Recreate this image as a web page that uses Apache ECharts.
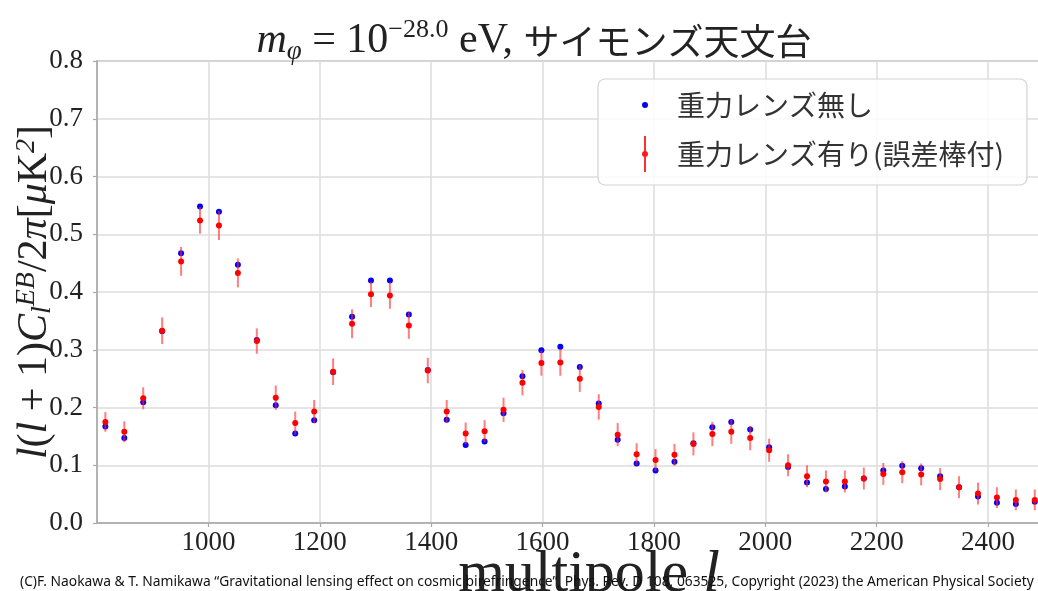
<!DOCTYPE html>
<html>
<head>
<meta charset="utf-8">
<script src="https://cdn.jsdelivr.net/npm/echarts@6/dist/echarts.min.js"></script>
<style>
html,body{margin:0;padding:0;background:#fff;}
#chart{width:1038px;height:591px;}
</style>
</head>
<body>
<div id="chart"></div>
<script>
// multipole bins (l)
const ells = [815, 849, 883, 917, 951, 985, 1019, 1053, 1087, 1121,
  1156, 1190, 1224, 1258, 1292, 1326, 1360, 1394, 1428, 1462,
  1496, 1530, 1564, 1598, 1632, 1667, 1701, 1735, 1769, 1803,
  1837, 1871, 1905, 1939, 1973, 2007, 2041, 2075, 2109, 2143,
  2177, 2212, 2246, 2280, 2314, 2348, 2382, 2416, 2450, 2484];
// without lensing (blue)
const noLens = [0.167, 0.147, 0.209, 0.332, 0.467, 0.548, 0.539, 0.447, 0.317, 0.204,
  0.155, 0.178, 0.261, 0.357, 0.420, 0.420, 0.361, 0.265, 0.179, 0.135,
  0.141, 0.190, 0.254, 0.299, 0.305, 0.270, 0.207, 0.144, 0.103, 0.091,
  0.106, 0.138, 0.166, 0.175, 0.162, 0.131, 0.097, 0.070, 0.059, 0.063,
  0.077, 0.091, 0.099, 0.095, 0.081, 0.062, 0.046, 0.035, 0.033, 0.037];
// with lensing (red)
const withLens = [0.175, 0.158, 0.216, 0.333, 0.453, 0.524, 0.515, 0.433, 0.315, 0.217,
  0.173, 0.193, 0.262, 0.345, 0.396, 0.394, 0.342, 0.264, 0.193, 0.155,
  0.159, 0.196, 0.243, 0.277, 0.278, 0.250, 0.201, 0.153, 0.119, 0.109,
  0.118, 0.137, 0.154, 0.158, 0.147, 0.126, 0.100, 0.081, 0.072, 0.072,
  0.077, 0.085, 0.088, 0.084, 0.076, 0.062, 0.051, 0.044, 0.040, 0.040];
// error bar half-lengths for the lensed spectrum
const errLens = [0.017, 0.018, 0.019, 0.023, 0.025, 0.023, 0.025, 0.025, 0.022, 0.021,
  0.020, 0.020, 0.023, 0.025, 0.022, 0.023, 0.023, 0.022, 0.020, 0.019,
  0.019, 0.021, 0.022, 0.022, 0.023, 0.023, 0.022, 0.020, 0.019, 0.019,
  0.019, 0.020, 0.021, 0.021, 0.021, 0.020, 0.019, 0.019, 0.019, 0.019,
  0.019, 0.019, 0.019, 0.019, 0.019, 0.019, 0.019, 0.018, 0.018, 0.018];
const yTicks = ['0.0','0.1','0.2','0.3','0.4','0.5','0.6','0.7','0.8'];
const xTickValues = [1000, 1200, 1400, 1600, 1800, 2000, 2200, 2400];

const nameNoLens = '重力レンズ無し';
const nameLens = '重力レンズ有り(誤差棒付)';

const SERIF = "'Liberation Serif', 'DejaVu Serif', serif";
const CJK = "'Noto Sans CJK JP', 'Noto Sans', sans-serif";

const chart = echarts.init(document.getElementById('chart'), null, {renderer: 'canvas'});

const option = {
  animation: false,
  backgroundColor: '#ffffff',
  title: {
    text: '{mi|m}{sub|φ}{rm| = 10}{sup|−28.0}{rm| eV, }{jp|サイモンズ天文台}',
    left: 529,
    top: 12,
    textAlign: 'center',
    textStyle: {
      fontWeight: 'normal',
      rich: {
        mi: {fontFamily: SERIF, fontStyle: 'italic', fontWeight: 'normal', fontSize: 42, color: '#222', lineHeight: 48, verticalAlign: 'middle'},
        rm: {fontFamily: SERIF, fontWeight: 'normal', fontSize: 42, color: '#222', lineHeight: 48, verticalAlign: 'middle'},
        sub: {fontFamily: SERIF, fontStyle: 'italic', fontWeight: 'normal', fontSize: 27, color: '#222', lineHeight: 18, verticalAlign: 'bottom'},
        sup: {fontFamily: SERIF, fontWeight: 'normal', fontSize: 26, color: '#222', lineHeight: 22, verticalAlign: 'top'},
        jp: {fontFamily: CJK, fontWeight: 'normal', fontSize: 36, color: '#222', lineHeight: 48, verticalAlign: 'middle'}
      }
    }
  },
  legend: {
    data: [
      {name: nameNoLens, icon: 'path://M3.5,0 L3.5,0.01 Z M3.5,36 L3.5,35.99 Z M0.5,18 A3,3 0 1 1 6.5,18 A3,3 0 1 1 0.5,18 Z',
        itemStyle: {color: '#0000ff'}},
      {name: nameLens, icon: 'path://M2.6,0 L4.4,0 L4.4,36 L2.6,36 Z M0.5,18 A3,3 0 1 1 6.5,18 A3,3 0 1 1 0.5,18 Z',
        itemStyle: {color: '#ff1a1a'}}
    ],
    orient: 'vertical',
    left: 598,
    top: 79,
    itemWidth: 54,
    itemHeight: 36,
    itemGap: 13,
    padding: [8, 23, 13, 44],
    backgroundColor: 'rgba(255,255,255,0.82)',
    borderColor: '#d4d4d4',
    borderWidth: 1.2,
    borderRadius: 7,
    symbolKeepAspect: true,
    textStyle: {fontFamily: CJK, fontSize: 28, color: '#333'}
  },
  grid: {
    left: 97,
    right: -43,
    top: 61,
    bottom: 68,
    containLabel: false,
    outerBoundsMode: 'none',
    show: true,
    borderColor: '#a8a8a8',
    borderWidth: 1.5,
    backgroundColor: 'transparent'
  },
  xAxis: {
    type: 'value',
    min: 800,
    max: 2567,
    interval: 200,
    name: '{rm|multipole }{mi|l}',
    nameLocation: 'middle',
    nameGap: 22,
    nameMoveOverlap: false,
    nameTextStyle: {
      rich: {
        rm: {fontFamily: SERIF, fontSize: 60, color: '#222'},
        mi: {fontFamily: SERIF, fontSize: 60, fontStyle: 'italic', color: '#222'}
      }
    },
    axisLine: {show: true, lineStyle: {color: '#a8a8a8', width: 1.5}},
    axisTick: {show: true, length: 4, lineStyle: {color: '#a8a8a8', width: 1.2}},
    splitLine: {show: true, lineStyle: {color: '#dcdcdc', width: 1.5}},
    axisLabel: {
      fontFamily: SERIF, fontSize: 27, color: '#222', margin: 6,
      showMinLabel: false, showMaxLabel: false,
      formatter: v => xTickValues.indexOf(v) >= 0 ? String(v) : ''
    }
  },
  yAxis: {
    type: 'value',
    min: 0,
    max: 0.8,
    interval: 0.1,
    name: '{mi|l}{rm|(}{mi|l}{rm| + 1)}{mi|C}{sub|l}{sup|EB}{rm|/2}{mi|π}{rm|[}{mi|μ}{rm|K}{sup|2}{rm|]}',
    nameLocation: 'middle',
    nameRotate: 90,
    nameGap: 40,
    nameMoveOverlap: false,
    nameTextStyle: {
      rich: {
        mi: {fontFamily: SERIF, fontStyle: 'italic', fontSize: 42, color: '#222', lineHeight: 44, verticalAlign: 'middle'},
        rm: {fontFamily: SERIF, fontSize: 42, color: '#222', lineHeight: 44, verticalAlign: 'middle'},
        sub: {fontFamily: SERIF, fontStyle: 'italic', fontSize: 28, color: '#222', lineHeight: 18, verticalAlign: 'bottom'},
        sup: {fontFamily: SERIF, fontStyle: 'italic', fontSize: 28, color: '#222', lineHeight: 22, verticalAlign: 'top'}
      }
    },
    axisLine: {show: true, lineStyle: {color: '#a8a8a8', width: 1.5}},
    axisTick: {show: true, length: 4, lineStyle: {color: '#a8a8a8', width: 1.2}},
    splitLine: {show: true, lineStyle: {color: '#dcdcdc', width: 1.5}},
    axisLabel: {
      fontFamily: SERIF, fontSize: 27, color: '#222', margin: 14,
      formatter: v => yTicks[Math.round(v * 10)]
    }
  },
  graphic: [{
    type: 'text',
    left: 20,
    top: 575,
    z: 100,
    style: {
      text: '(C)F. Naokawa & T. Namikawa “Gravitational lensing effect on cosmic birefringence”, Phys. Rev. D 108, 063525, Copyright (2023) the American Physical Society',
      fontFamily: "'Noto Sans', 'Open Sans', sans-serif",
      fontSize: 13.8,
      fill: '#111'
    }
  }],
  series: [
    {
      name: nameNoLens,
      type: 'scatter',
      symbol: 'circle',
      symbolSize: 6,
      itemStyle: {color: '#0000ff', opacity: 1},
      data: ells.map((l, i) => [l, noLens[i]]),
      z: 2
    },
    {
      name: 'errorbars',
      type: 'custom',
      data: ells.map((l, i) => [l, withLens[i], errLens[i]]),
      encode: {x: 0, y: 1},
      renderItem: function (params, api) {
        const x = api.value(0), y = api.value(1), e = api.value(2);
        const p1 = api.coord([x, y - e]);
        const p2 = api.coord([x, y + e]);
        return {
          type: 'line',
          shape: {x1: p1[0], y1: p1[1], x2: p2[0], y2: p2[1]},
          style: {stroke: 'rgba(255,40,40,0.6)', lineWidth: 2}
        };
      },
      z: 3
    },
    {
      name: nameLens,
      type: 'scatter',
      symbol: 'circle',
      symbolSize: 6,
      itemStyle: {color: '#ff0000', opacity: 1},
      data: ells.map((l, i) => [l, withLens[i]]),
      z: 4
    }
  ]
};
chart.setOption(option);
</script>
</body>
</html>
